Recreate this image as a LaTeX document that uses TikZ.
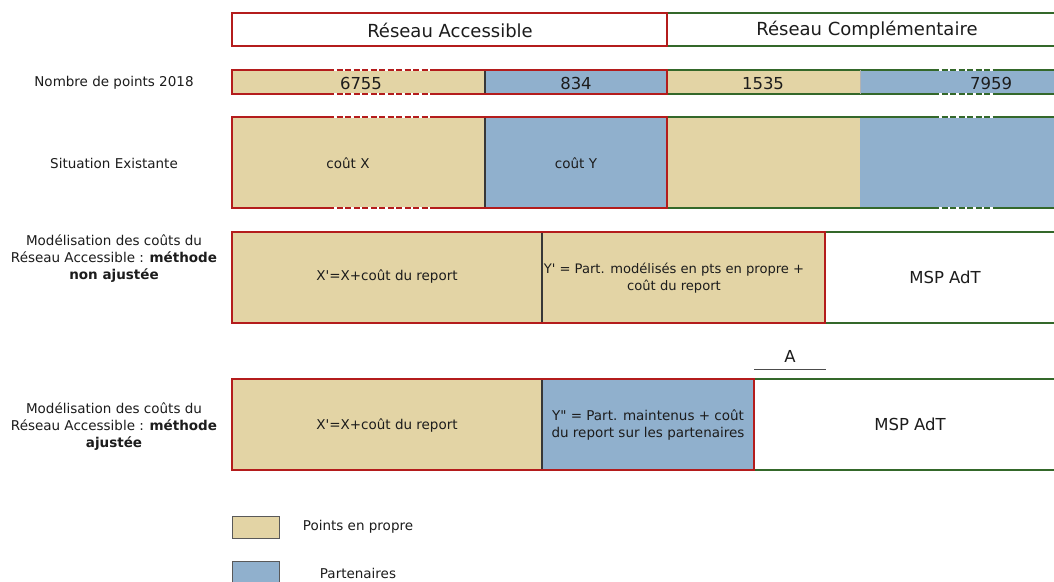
\documentclass[tikz,border=0pt]{standalone}
\usepackage{fontspec}
\setmainfont{DejaVu Sans}
\definecolor{tanc}{RGB}{227,212,165}
\definecolor{pblue}{RGB}{144,176,205}
\definecolor{bred}{RGB}{180,28,28}
\definecolor{bgreen}{RGB}{52,104,42}
\definecolor{txt}{RGB}{28,28,28}
\definecolor{divc}{RGB}{55,55,55}
\newcommand\hdrf{\fontsize{18}{20}\selectfont}
\newcommand\bigf{\fontsize{16.5}{19}\selectfont}
\newcommand\smf{\fontsize{13.5}{17}\selectfont}
\newcommand\tightf{\fontsize{13.1}{17}\selectfont}
\tikzset{
  cellbox/.style={anchor=north west, inner sep=0pt, outer sep=0pt, draw=none},
  lbl/.style={inner sep=0pt, text=txt, align=center},
  redline/.style={draw=bred, line width=1.4pt},
  greenline/.style={draw=bgreen, line width=1.4pt},
  divline/.style={draw=divc, line width=1.1pt},
  dashseg/.style={line width=1.4pt, dash pattern=on 6pt off 2.5pt},
  legbox/.style={draw=gray!70!black, line width=0.8pt}
}
\newcommand\cbox[6]{\node[cellbox, fill=#6, minimum width=#4pt, minimum height=#5pt] (#1) at (#2,#3) {};}
\begin{document}
\begin{tikzpicture}[x=1pt,y=-1pt]
\clip (0,0) rectangle (1054,581);
\fill[white] (0,0) rectangle (1054,581);
% Row 1 headers
\cbox{hA}{232}{13}{435}{33}{white}
\cbox{hB}{667}{13}{455}{33}{white}
\draw[greenline] (hB.north west) -- (hB.north east);
\draw[greenline] (hB.south west) -- (hB.south east);
\draw[redline] (hA.north west) rectangle (hA.south east);
\node[lbl, font=\hdrf] (thA) at (450,30) {Réseau Accessible};
\node[lbl, font=\hdrf] (thB) at (867,30) {Réseau Complémentaire};
% Row 2 numbers
\cbox{n1}{232}{70}{253}{24}{tanc}
\cbox{n2}{485}{70}{182}{24}{pblue}
\cbox{n3}{667}{70}{193}{24}{tanc}
\cbox{n4}{860}{70}{262}{24}{pblue}
\draw[greenline] (n3.north west) -- (n4.north east);
\draw[greenline] (n3.south west) -- (n4.south east);
\draw[divline] (n2.north west) -- (n2.south west);
\draw[draw=gray!60, line width=0.6pt] (n4.north west) -- (n4.south west);
\draw[redline] (n1.north west) rectangle (n2.south east);
\coordinate (d1a) at (328,70); \coordinate (d1b) at (430,70);
\coordinate (d1c) at (328,94); \coordinate (d1d) at (430,94);
\coordinate (d2a) at (933,70); \coordinate (d2b) at (995,70);
\coordinate (d2c) at (933,94); \coordinate (d2d) at (995,94);
\draw[white, line width=1.5pt] (d1a) -- (d1b) (d1c) -- (d1d) (d2a) -- (d2b) (d2c) -- (d2d);
\draw[dashseg, bred] (d1a) -- (d1b) (d1c) -- (d1d);
\draw[dashseg, bgreen] (d2a) -- (d2b) (d2c) -- (d2d);
\node[lbl, font=\bigf] (t1) at (361,83) {6755};
\node[lbl, font=\bigf] (t2) at (576,83) {834};
\node[lbl, font=\bigf] (t3) at (763,83) {1535};
\node[lbl, font=\bigf] (t4) at (991,83) {7959};
% Row 3 existing
\cbox{s1}{232}{117}{253}{91}{tanc}
\cbox{s2}{485}{117}{182}{91}{pblue}
\cbox{s3}{667}{117}{193}{91}{tanc}
\cbox{s4}{860}{117}{262}{91}{pblue}
\draw[greenline] (s3.north west) -- (s4.north east);
\draw[greenline] (s3.south west) -- (s4.south east);
\draw[divline] (s2.north west) -- (s2.south west);
\draw[redline] (s1.north west) rectangle (s2.south east);
\coordinate (e1a) at (328,117); \coordinate (e1b) at (430,117);
\coordinate (e1c) at (328,208); \coordinate (e1d) at (430,208);
\coordinate (e2a) at (933,117); \coordinate (e2b) at (995,117);
\coordinate (e2c) at (933,208); \coordinate (e2d) at (995,208);
\draw[white, line width=1.5pt] (e1a) -- (e1b) (e1c) -- (e1d) (e2a) -- (e2b) (e2c) -- (e2d);
\draw[dashseg, bred] (e1a) -- (e1b) (e1c) -- (e1d);
\draw[dashseg, bgreen] (e2a) -- (e2b) (e2c) -- (e2d);
\node[lbl, font=\smf] (tx) at (348,163) {coût X};
\node[lbl, font=\smf] (ty) at (576,163) {coût Y};
% Row 4 non ajustee
\cbox{m1}{232}{232}{310}{91}{tanc}
\cbox{m2}{542}{232}{283}{91}{tanc}
\cbox{m3}{825}{232}{297}{91}{white}
\draw[greenline] (m3.north west) -- (m3.north east);
\draw[greenline] (m3.south west) -- (m3.south east);
\draw[divline] (m2.north west) -- (m2.south west);
\draw[redline] (m1.north west) rectangle (m2.south east);
\node[lbl, font=\smf] (tm1) at (387,277) {X\textquotesingle=X+coût du report};
\node[lbl, font=\tightf] (tm2) at (674,278) {Y\textquotesingle{} = Part. modélisés en pts en propre +\\coût du report};
\node[lbl, font=\bigf] (tm3) at (945,277) {MSP AdT};
% A marker
\coordinate (aL) at (754,369); \coordinate (aR) at (826,369);
\draw[draw=gray!60!black, line width=0.8pt] (aL) -- (aR);
\node[lbl, font=\bigf] (tA) at (790,356) {A};
% Row 5 ajustee
\cbox{a1}{232}{379}{310}{91}{tanc}
\cbox{a2}{542}{379}{212}{91}{pblue}
\cbox{a3}{754}{379}{368}{91}{white}
\draw[greenline] (a3.north west) -- (a3.north east);
\draw[greenline] (a3.south west) -- (a3.south east);
\draw[divline] (a2.north west) -- (a2.south west);
\draw[redline] (a1.north west) rectangle (a2.south east);
\node[lbl, font=\smf] (ta1) at (387,425) {X\textquotesingle=X+coût du report};
\node[lbl, font=\smf] (ta2) at (648,425) {Y\textquotedbl{} = Part. maintenus + coût\\du report sur les partenaires};
\node[lbl, font=\bigf] (ta3) at (910,424) {MSP AdT};
% Left labels
\node[lbl, font=\smf] (L1) at (114,83) {Nombre de points 2018};
\node[lbl, font=\smf] (L2) at (114,163) {Situation Existante};
\node[lbl, font=\smf] (L3) at (114,259) {Modélisation des coûts du\\Réseau Accessible : \textbf{méthode}\\\textbf{non ajustée}};
\node[lbl, font=\smf] (L4) at (114,427) {Modélisation des coûts du\\Réseau Accessible : \textbf{méthode}\\\textbf{ajustée}};
% Legend
\cbox{lg1}{232}{516}{47}{22}{tanc}
\draw[legbox] (lg1.north west) rectangle (lg1.south east);
\cbox{lg2}{232}{561}{47}{22}{pblue}
\draw[legbox] (lg2.north west) rectangle (lg2.south east);
\node[lbl, font=\smf] (lt1) at (358,527) {Points en propre};
\node[lbl, font=\smf] (lt2) at (358,573) {Partenaires};
\end{tikzpicture}
\end{document}
